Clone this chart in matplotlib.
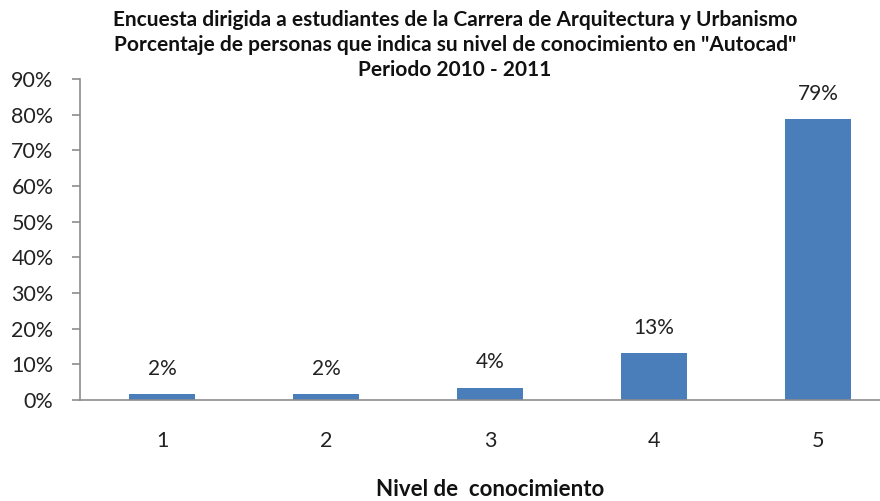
import matplotlib
matplotlib.use("Agg")
import matplotlib.pyplot as plt
from matplotlib.ticker import FuncFormatter

categories = ["1", "2", "3", "4", "5"]
values = [0.016, 0.016, 0.035, 0.131, 0.787]
value_labels = ["2%", "2%", "4%", "13%", "79%"]
yticks = [0, 0.1, 0.2, 0.3, 0.4, 0.5, 0.6, 0.7, 0.8, 0.9]
title_lines = [
    "Encuesta dirigida a estudiantes de la Carrera de Arquitectura y Urbanismo",
    'Porcentaje de personas que indica su nivel de conocimiento en "Autocad"',
    "Periodo 2010 - 2011",
]
xlabel = "Nivel de  conocimiento"

plt.rcParams["font.family"] = ["Lato", "DejaVu Sans"]

W, H = 880, 501
fig = plt.figure(figsize=(W / 100, H / 100), dpi=100)
ax = fig.add_axes([80 / W, 1 - 400 / H, 820 / W, (400 - 79) / H])

bar_color = "#4A7EBB"
x = list(range(len(categories)))
bars = ax.bar(x, values, width=0.4, color=bar_color)
for xi, v, lab in zip(x, values, value_labels):
    ax.annotate(lab, (xi, v), xytext=(0, 11), textcoords="offset points",
                ha="center", va="bottom", fontsize=15, color="#222222")

ax.set_xlim(-0.5, len(categories) - 0.5)
ax.set_ylim(0, 0.9)
ax.set_yticks(yticks)
ax.yaxis.set_major_formatter(FuncFormatter(lambda v, p: f"{v*100:.0f}%"))
ax.set_xticks(x)
ax.set_xticklabels(categories)

for s in ["top", "right"]:
    ax.spines[s].set_visible(False)
for s in ["left", "bottom"]:
    ax.spines[s].set_color("#8C8C8C")
    ax.spines[s].set_linewidth(1.2)

ax.tick_params(axis="y", direction="out", length=6, width=1.2, color="#8C8C8C",
               labelsize=15.5, labelcolor="#222222", pad=13)
ax.tick_params(axis="x", length=0, labelsize=15.5, labelcolor="#222222", pad=22)

fig.text(490 / W, 1 - 496 / H, xlabel, ha="center", va="baseline",
         fontsize=16, fontweight="bold", color="#111111")

baselines = [26, 51, 76]
for line, yy in zip(title_lines, baselines):
    fig.text(455 / W, 1 - yy / H, line, ha="center", va="baseline",
             fontsize=15, fontweight="bold", color="#111111")

fig.savefig("out.png", dpi=100)
